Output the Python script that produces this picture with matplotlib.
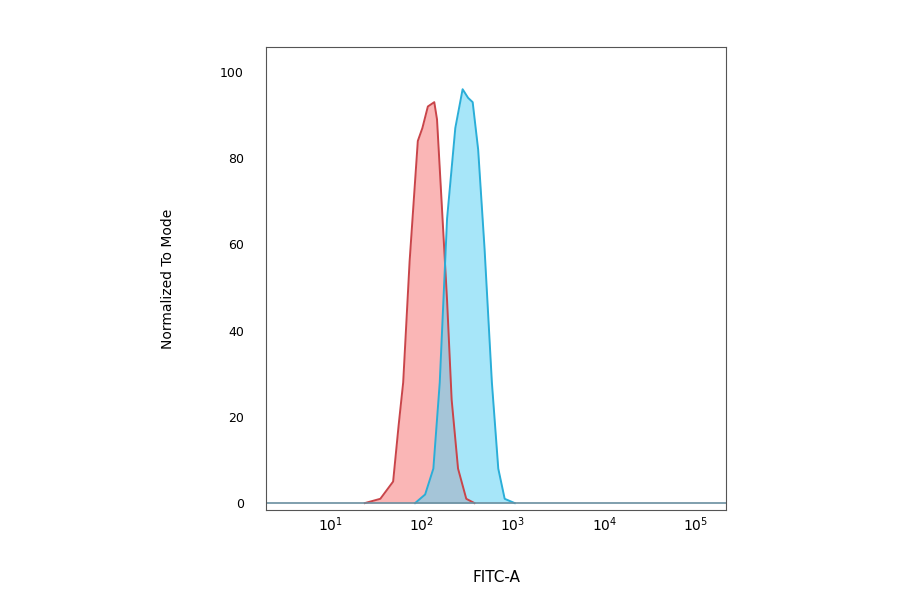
import matplotlib.pyplot as plt
import numpy as np

# log10 positions and heights
red_log = [1.38, 1.55, 1.69, 1.75, 1.80, 1.87, 1.96, 2.01, 2.07, 2.14, 2.17, 2.22, 2.28, 2.33, 2.40, 2.49, 2.58]
red_val = [0, 1, 5, 18, 28, 56, 84, 87, 92, 93, 89, 70, 47, 24, 8, 1, 0]
blue_log = [1.93, 2.04, 2.13, 2.20, 2.28, 2.37, 2.45, 2.51, 2.56, 2.62, 2.69, 2.77, 2.84, 2.91, 3.02]
blue_val = [0, 2, 8, 28, 66, 87, 96, 94, 93, 82, 59, 28, 8, 1, 0]
y_ticks = [0, 20, 40, 60, 80, 100]
x_ticks = [1, 2, 3, 4, 5]

fig = plt.figure(figsize=(9, 5.94), dpi=100)
ax = fig.add_axes([0.2956, 0.1414, 0.511, 0.7795])

for lg, v, fc, ec in [(red_log, red_val, '#f77b7b', '#c9454a'),
                      (blue_log, blue_val, '#5fd3f5', '#2aaed8')]:
    x = 10 ** np.array(lg)
    ax.fill_between(x, v, color=fc, alpha=0.55, lw=0)
    ax.plot(x, v, color=ec, lw=1.4)

xmin, xmax = 10 ** 0.30, 10 ** 5.33
ax.plot([xmin, xmax], [0, 0], color='#6a8fa0', lw=1.2)
ax.set_xscale('log')
ax.set_xlim(xmin, xmax)
ax.set_ylim(-1.6, 105.8)
ax.set_xticks([10 ** k for k in x_ticks])
ax.set_xticklabels([f'$10^{{{k}}}$' for k in x_ticks], fontsize=10)
ax.minorticks_off()
ax.set_yticks(y_ticks)
ax.set_yticklabels([str(t) for t in y_ticks], fontsize=9)
ax.tick_params(length=0, pad=16)
ax.tick_params(axis='x', pad=4)
for s in ax.spines.values():
    s.set_color('#555555')
    s.set_linewidth(0.8)
ax.set_xlabel('FITC-A', fontsize=11, labelpad=26)
ax.set_ylabel('Normalized To Mode', fontsize=10, labelpad=32)

fig.savefig('out.png', dpi=100)
